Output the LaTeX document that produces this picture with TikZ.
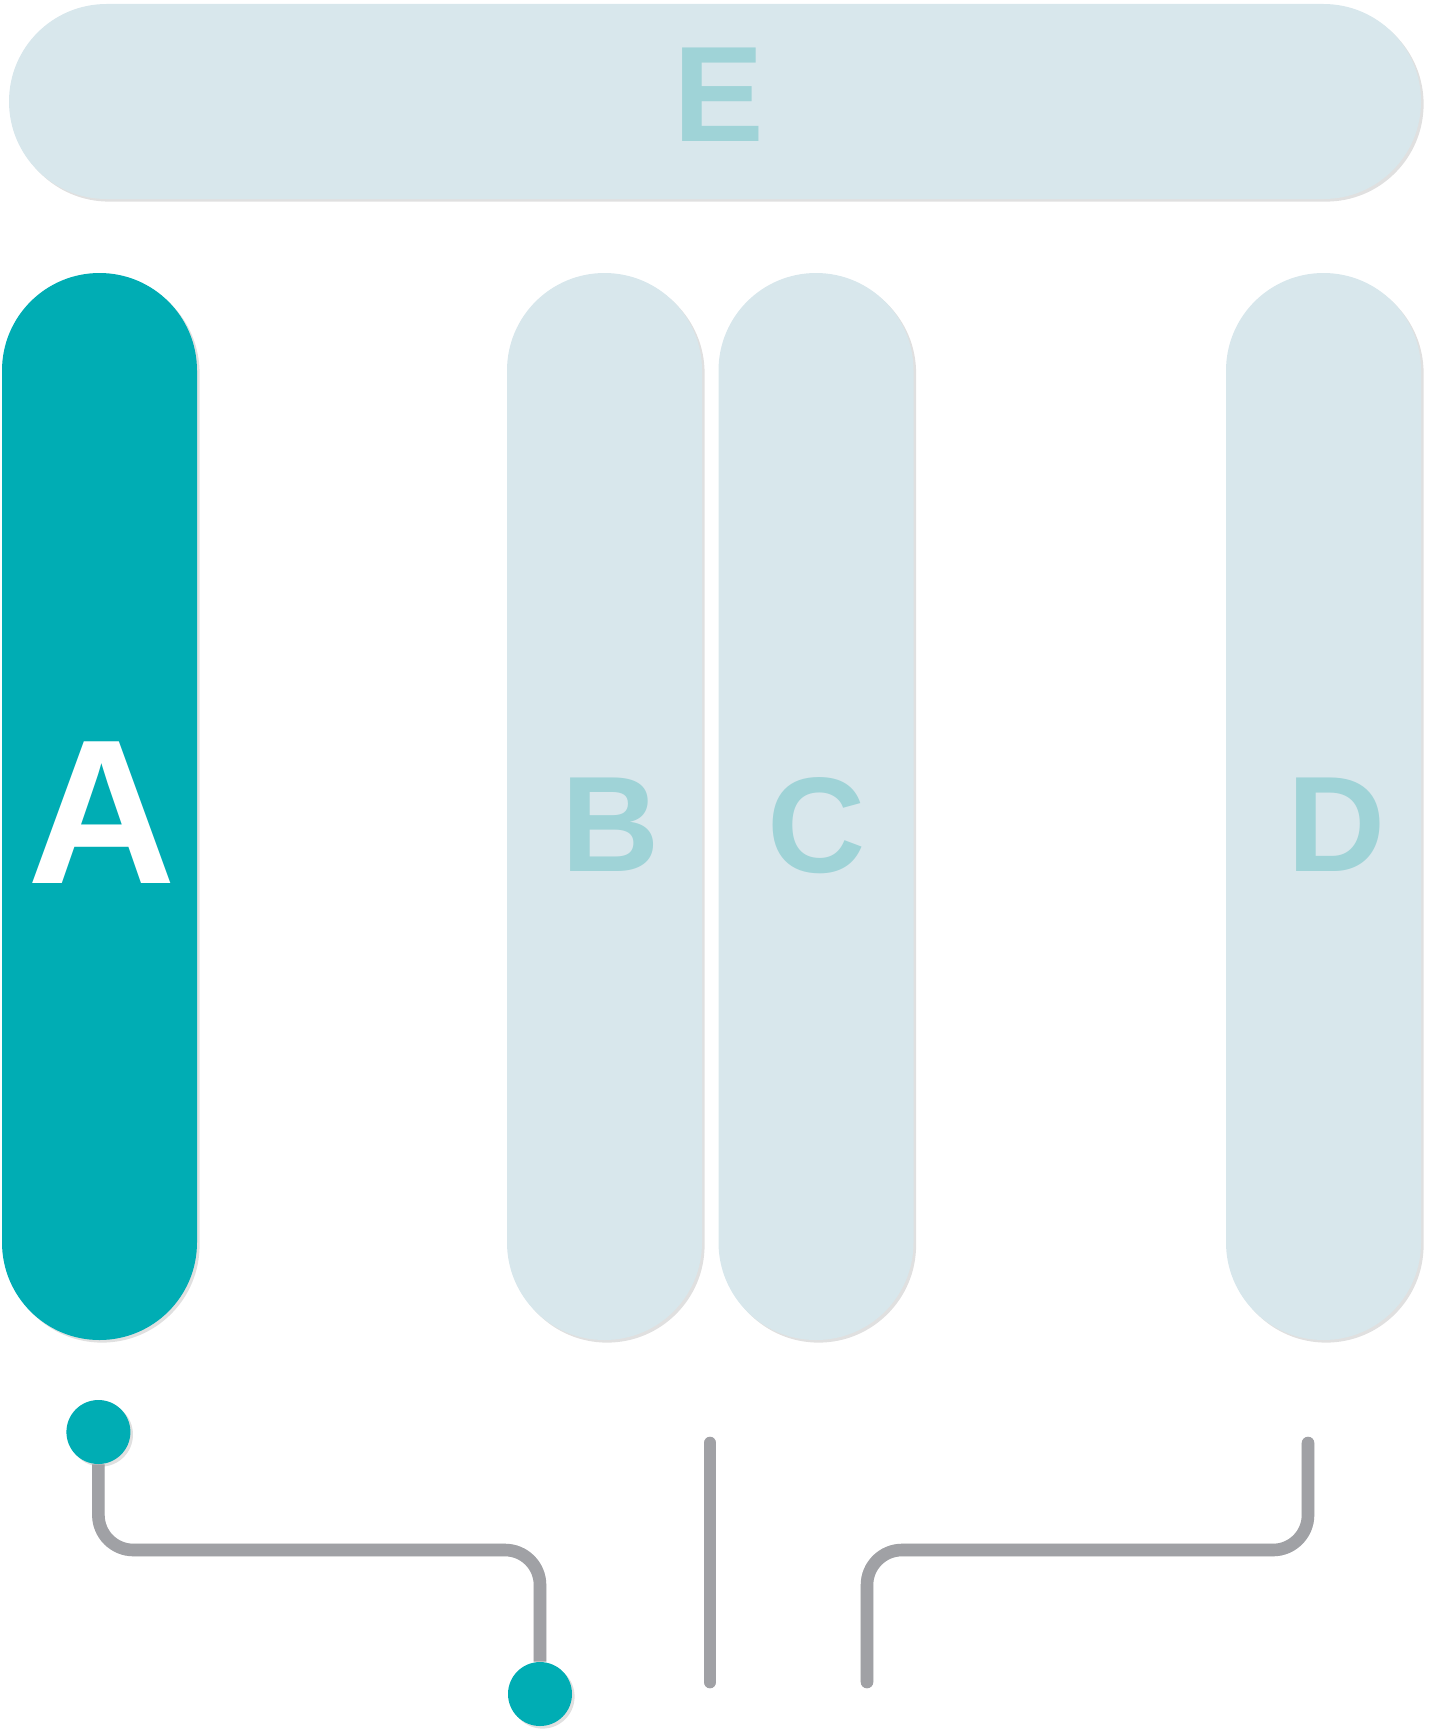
\documentclass[tikz,border=0pt]{standalone}
\usepackage{fontspec}
\setmainfont{Liberation Sans}
\usetikzlibrary{shadows,shapes.misc}
\definecolor{tealA}{HTML}{00ADB4}
\definecolor{paleblue}{HTML}{D8E7EC}
\definecolor{letterteal}{HTML}{9FD3D7}
\definecolor{linegray}{HTML}{A0A1A5}
\begin{document}
\begin{tikzpicture}[
  softshadow/.style={drop shadow={shadow xshift=1.3pt, shadow yshift=-1.3pt, opacity=0.12, fill=black}},
  colpill/.style={rounded rectangle, rotate=90, minimum width=533.5pt, minimum height=97.5pt, inner sep=0pt, softshadow},
  palepill/.style={colpill, fill=paleblue},
  toppill/.style={rounded rectangle, minimum width=706pt, minimum height=97.5pt, inner sep=0pt, fill=paleblue, softshadow},
  dot/.style={circle, minimum size=32pt, inner sep=0pt, fill=tealA, softshadow},
  biglabel/.style={inner sep=0pt, font=\fontsize{103}{103}\selectfont\bfseries, text=white},
  palelabel/.style={inner sep=0pt, font=\fontsize{68}{68}\selectfont\bfseries, text=letterteal},
  conn/.style={draw=linegray, line width=6.3pt, rounded corners=17.5pt},
  connshadow/.style={draw=black, opacity=0.07, line width=6.3pt, rounded corners=17.5pt}
]
\useasboundingbox (0pt,0pt) rectangle (716pt,-867pt);

% top bar
\node[toppill] (E) at (357.5pt,-50.75pt) {};
% columns
\node[colpill, fill=tealA] (A) at (49.75pt,-403.25pt) {};
\node[palepill] (B) at (302.25pt,-403.25pt) {};
\node[palepill] (C) at (408pt,-403.25pt) {};
\node[palepill] (D) at (661.75pt,-403.25pt) {};

% labels
\node[biglabel] (labA) at (51pt,-406.5pt) {A};
\node[palelabel] (labB) at (305.5pt,-412.5pt) {B};
\node[palelabel] (labC) at (408.5pt,-413pt) {C};
\node[palelabel] (labD) at (668.5pt,-412.5pt) {D};
\node[palelabel] (labE) at (359.5pt,-47.5pt) {E};

% dots
\node[dot] (d1) at (49.2pt,-716pt) {};
\node[dot] (d2) at (270pt,-847pt) {};

% free-end coordinates
\coordinate (m1) at (355pt,-721.5pt);
\coordinate (m2) at (355pt,-841pt);
\coordinate (r1) at (654pt,-721.5pt);
\coordinate (r2) at (433.5pt,-841pt);
\coordinate (lk) at (270pt,-775pt);
\coordinate (rk) at (433.5pt,-775pt);

% connector shadows
\begin{scope}[shift={(1.4pt,-1.4pt)}]
  \draw[connshadow] (d1) |- (lk) -- (d2);
  \draw[connshadow, line cap=round] (m1) -- (m2);
  \draw[connshadow, line cap=round] (r1) |- (rk) -- (r2);
\end{scope}
% connectors
\draw[conn] (d1) |- (lk) -- (d2);
\draw[conn, line cap=round] (m1) -- (m2);
\draw[conn, line cap=round] (r1) |- (rk) -- (r2);
\end{tikzpicture}
\end{document}
